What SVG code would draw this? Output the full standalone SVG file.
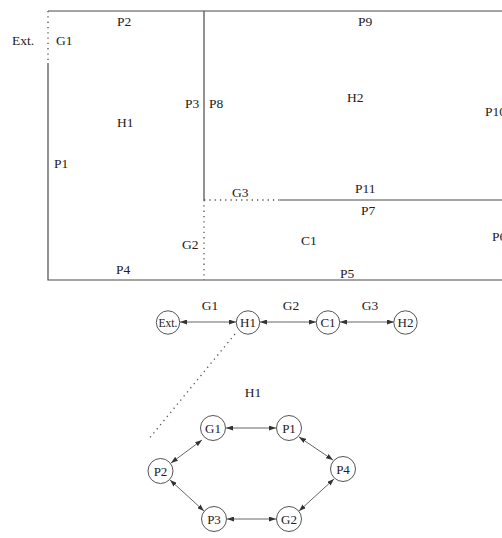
<svg xmlns="http://www.w3.org/2000/svg" width="502" height="538" viewBox="0 0 502 538">
<style>
text{font-family:"Liberation Serif","Times New Roman",serif;fill:#222;font-size:13.5px}
.c{text-anchor:middle}
.n text{font-size:13px;text-anchor:middle}
.n circle{fill:#fff;stroke:#555;stroke-width:1}
.solid{stroke:#4a4a4a;stroke-width:1.2;fill:none}
.dot{stroke:#555;stroke-width:1.3;fill:none;stroke-dasharray:1.3 4}
.arr{stroke:#555;stroke-width:0.9;fill:none;marker-start:url(#ah);marker-end:url(#ah)}
</style>
<defs>
<marker id="ah" viewBox="0 0 10 10" refX="10" refY="5" markerWidth="7" markerHeight="5" markerUnits="userSpaceOnUse" orient="auto-start-reverse" preserveAspectRatio="none">
<path d="M0,0 L10,5 L0,10 z" fill="#333"/>
</marker>
</defs>
<g id="plan">
<path class="solid" d="M48,11 H502 M48,63 V280 H502 M204,11 V200 M280,200 H502"/>
<path class="dot" d="M48,11 V63 M204,200 V280 M204,200 H280"/>
<text x="12" y="45">Ext.</text>
<text x="56" y="45">G1</text>
<text x="117" y="26">P2</text>
<text x="185" y="108">P3</text>
<text x="209" y="108">P8</text>
<text x="117" y="127">H1</text>
<text x="358" y="26">P9</text>
<text x="347" y="102">H2</text>
<text x="485" y="116">P10</text>
<text x="54" y="168">P1</text>
<text x="232" y="197">G3</text>
<text x="355" y="193">P11</text>
<text x="361" y="215">P7</text>
<text x="301" y="245">C1</text>
<text x="492" y="241">P6</text>
<text x="182" y="249">G2</text>
<text x="116" y="274">P4</text>
<text x="340" y="278">P5</text>
</g>
<g id="connectors">
<path class="arr" d="M180,322 H236"/>
<path class="arr" d="M260,322 H316"/>
<path class="arr" d="M340,322 H394"/>
<path class="dot" d="M235,334 L148,440"/>
<path class="arr" d="M226,428 H276"/>
<path class="arr" d="M171,463 L202,440"/>
<path class="arr" d="M299,437 L333,460"/>
<path class="arr" d="M334,479 L299,511"/>
<path class="arr" d="M170,480 L204,511"/>
<path class="arr" d="M227,519 H276"/>
</g>
<g id="labels">
<text class="c" x="210" y="310">G1</text>
<text class="c" x="291" y="310">G2</text>
<text class="c" x="370" y="310">G3</text>
<text class="c" x="253" y="397">H1</text>
</g>
<g id="n-ext" class="n"><circle cx="168" cy="322.5" r="11.7"/><text x="168" y="327" style="font-size:11.5px">Ext.</text></g>
<g id="n-h1" class="n"><circle cx="248" cy="322.5" r="11.7"/><text x="248" y="327">H1</text></g>
<g id="n-c1" class="n"><circle cx="328" cy="322.5" r="11.7"/><text x="328" y="327">C1</text></g>
<g id="n-h2" class="n"><circle cx="405.5" cy="322.5" r="11.7"/><text x="405.5" y="327">H2</text></g>
<g id="n-g1" class="n"><circle cx="213" cy="428" r="12.5"/><text x="213" y="432.5">G1</text></g>
<g id="n-p1" class="n"><circle cx="289" cy="428" r="12.5"/><text x="289" y="432.5">P1</text></g>
<g id="n-p2" class="n"><circle cx="160.5" cy="471" r="12.5"/><text x="160.5" y="475.5">P2</text></g>
<g id="n-p4" class="n"><circle cx="343" cy="469" r="12.5"/><text x="343" y="473.5">P4</text></g>
<g id="n-p3" class="n"><circle cx="214" cy="519" r="12.5"/><text x="214" y="523.5">P3</text></g>
<g id="n-g2" class="n"><circle cx="289" cy="519" r="12.5"/><text x="289" y="523.5">G2</text></g>
</svg>
